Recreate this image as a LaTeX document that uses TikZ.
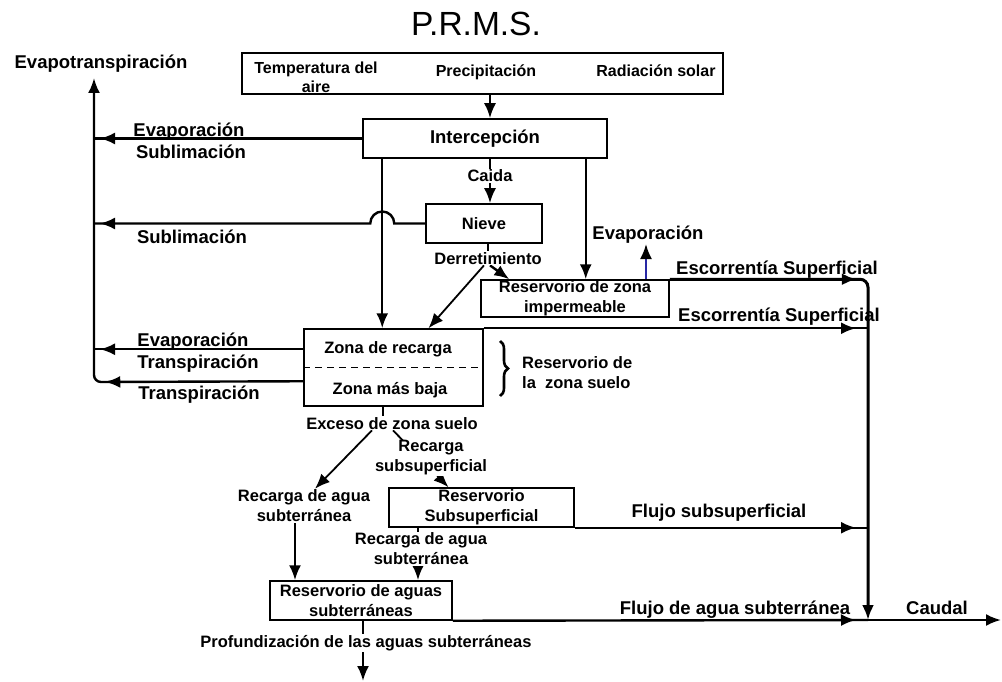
\documentclass[tikz,border=0pt]{standalone}
\usepackage{fontspec}
\setmainfont{Liberation Sans}
\usetikzlibrary{arrows.meta,decorations.markings,decorations.pathreplacing,backgrounds,calc}
\definecolor{evblue}{RGB}{40,40,165}
\begin{document}
\begin{tikzpicture}[x=1pt,y=-1pt,
  every node/.style={inner sep=1pt},
  bigtxt/.style={font=\fontsize{18.5}{20}\selectfont\bfseries},
  smalltxt/.style={font=\fontsize{16.5}{20}\selectfont\bfseries},
  toptxt/.style={font=\fontsize{16}{19}\selectfont\bfseries},
  box/.style={draw, line width=1.5pt, inner sep=0pt, align=center, smalltxt},
  lbl/.style={fill=white},
  flow/.style={line width=2.4pt},
  flowthin/.style={line width=1.8pt},
  arr/.style={-{Latex[length=15pt,width=12pt]}},
  midtip/.style={postaction={decorate}, decoration={markings,
      mark=at position #1 with {\arrow{Latex[length=15pt,width=12pt]}}}},
]
\useasboundingbox (0,0) rectangle (1002,682);

% title
\node[font=\fontsize{33.5}{36}\selectfont, anchor=base] (title) at (476,36) {P.R.M.S.};

% inputs
\node[box, minimum width=481pt, minimum height=41pt] (inputs) at (482.5,73.5) {};
\node[toptxt, align=center] (temp) at (316,77) {Temperatura del\\aire};
\node[toptxt, anchor=base] (prec) at (486,77) {Precipitación};
\node[toptxt, anchor=base] (rad) at (656,77) {Radiación solar};

% storages
\node[box, bigtxt, minimum width=244pt, minimum height=39pt] (inter) at (485,138.5) {Intercepción};
\node[box, minimum width=116pt, minimum height=39pt] (nieve) at (484,223.5) {Nieve};
\node[box, minimum width=188pt, minimum height=37pt] (imp) at (575,298.5) {Reservorio de zona\\impermeable};
\node[box, minimum width=179pt, minimum height=77pt] (zona) at (393.5,367.5) {};
\node[smalltxt, anchor=base] (recz) at (388,353) {Zona de recarga};
\node[smalltxt, anchor=base] (bajz) at (390,394) {Zona más baja};
\node[box, minimum width=185pt, minimum height=39pt] (sub) at (481.5,507.5) {Reservorio\\Subsuperficial};
\node[box, minimum width=182pt, minimum height=39pt] (aguas) at (361,600.5) {Reservorio de aguas\\subterráneas};

% soil zone split and brace
\draw[line width=1.2pt, dash pattern=on 7pt off 5pt] (zona.west) -- (zona.east);
\draw[line width=2.6pt, decorate, decoration={brace, amplitude=8pt}] (500,341) -- (500,396);
\node[smalltxt, align=left, anchor=west] (rzs) at (521,373) {Reservorio de\\la\ \ zona suelo};

% evapotranspiration collector
\coordinate (ettop) at (94,78);
\coordinate (etbot) at (94,382);
\node[bigtxt, anchor=base] (evapot) at (101,69) {Evapotranspiración};
\node[bigtxt, anchor=base] (evap1) at (189,137) {Evaporación};
\node[bigtxt, anchor=base] (subl1) at (191,159) {Sublimación};
\node[bigtxt, anchor=base] (subl2) at (192,243) {Sublimación};
\node[bigtxt, anchor=base] (evap3) at (193,346) {Evaporación};
\node[bigtxt, anchor=base] (transp1) at (198,368) {Transpiración};
\node[bigtxt, anchor=base] (transp2) at (199,399) {Transpiración};

% flow labels
\node[smalltxt, lbl, anchor=base] (caida) at (490,182) {Caida};
\node[smalltxt, lbl, anchor=base] (derr) at (488,264) {Derretimiento};
\node[bigtxt, anchor=base] (evapR) at (648,239) {Evaporación};
\node[bigtxt, anchor=base] (esc1) at (777,274) {Escorrentía Superficial};
\node[bigtxt, anchor=base] (esc2) at (779,321) {Escorrentía Superficial};
\node[smalltxt, lbl, anchor=base] (exc) at (392,429) {Exceso de zona suelo};
\node[smalltxt, lbl, align=center] (rsub) at (431,458) {Recarga\\subsuperficial};
\node[smalltxt, lbl, align=center] (rgaL) at (304,506) {Recarga de agua\\subterránea};
\node[smalltxt, lbl, align=center] (rgaR) at (421,549) {Recarga de agua\\subterránea};
\node[bigtxt, anchor=base] (fsub) at (719,517) {Flujo subsuperficial};
\node[bigtxt, anchor=base] (fagua) at (735,614) {Flujo de agua subterránea};
\node[bigtxt, anchor=base] (caudal) at (937,614) {Caudal};
\node[smalltxt, lbl, anchor=base] (prof) at (366,647) {Profundización de las aguas subterráneas};

% junction points
\coordinate (sink) at (868,620);
\coordinate (outlet) at (1001,620);
\coordinate (deep) at (363,681);
\coordinate (vl) at ([xshift=20pt]inter.south west);
\coordinate (vr) at ([xshift=-22pt]inter.south east);
\coordinate (vc) at ([xshift=7.5pt]inputs.south);
\coordinate (vf) at ([xshift=5pt]inter.south);
\coordinate (zl1) at ([yshift=-21pt]zona.north west);
\coordinate (zl2) at ([yshift=-53pt]zona.north west);
\coordinate (vs) at ([xshift=-63.5pt]sub.south);

\begin{scope}[on background layer]
  % precipitation and interception
  \draw[flow, arr] (vc) -- (vc |- inter.north);
  \draw[flow, midtip=-6pt] (inter.west) -- (inter.west -| ettop);
  \draw[flow, arr] (vl) -- (vl |- zona.north);
  \draw[flow, arr] (vr) -- (vr |- imp.north);
  \draw[flow, arr] (vf) -- (vf |- nieve.north);
  % snow
  \draw[flow, midtip=-6pt] (nieve.west) -- ($(nieve.west -| vl)+(12,0)$)
     arc[start angle=0, end angle=-180, radius=12] -- (nieve.west -| ettop);
  \draw[flowthin] (derr.north |- nieve.south) -- (derr.north);
  \draw[flowthin, arr] ([xshift=-4pt]derr.south) -- ([xshift=35pt]zona.north);
  \draw[flow, arr] ([xshift=2pt]derr.south) -- ([xshift=29pt]imp.north west);
  % impervious zone
  \draw[line width=2pt, evblue, -{Latex[length=15pt,width=12pt,color=black]}]
     ([xshift=71pt]imp.north) -- ([xshift=71pt]imp.north |- evapR.south);
  \draw[line width=3pt, rounded corners=8pt, arr, midtip=187pt]
     (imp.north east) -- (imp.north east -| sink) -- (sink);
  % soil zone
  \draw[flow, midtip=-12pt] (zona.north east) -- (zona.north east -| sink);
  \draw[flow, midtip=-6pt] (zl1) -- (zl1 -| ettop);
  \draw[flow, rounded corners=7pt, arr, midtip=198pt] (zl2) -- (etbot) -- (ettop);
  \draw[flowthin] ([xshift=-10.5pt]zona.south) -- ([xshift=-10.5pt]zona.south |- exc.north);
  \draw[flowthin, arr] ([xshift=-20pt]exc.south) -- ([xshift=11pt]rgaL.north);
  \draw[flowthin, arr] ([xshift=1pt]exc.south) -- ([xshift=-33pt]sub.north);
  % subsurface and groundwater
  \draw[flow, arr] ([xshift=-9pt]rgaL.south) -- ([xshift=-9pt]rgaL.south |- aguas.north);
  \draw[flow, arr] (vs) -- (vs |- aguas.north);
  \draw[flow, midtip=-12pt] (sub.south east) -- (sub.south east -| sink);
  \draw[flow, midtip=-12pt] (aguas.south east) -- (sink);
  \draw[flow, arr] (sink) -- (outlet);
  \draw[flowthin] ([xshift=2pt]aguas.south) -- ([xshift=2pt]aguas.south |- prof.north);
  \draw[flow, arr] (prof.south -| deep) -- (deep);
\end{scope}
\end{tikzpicture}
\end{document}
